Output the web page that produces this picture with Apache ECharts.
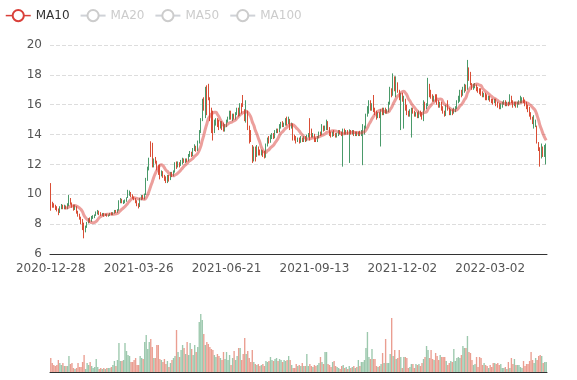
<!DOCTYPE html>
<html><head><meta charset="utf-8">
<script src="https://cdn.jsdelivr.net/npm/echarts@6/dist/echarts.min.js"></script>
<style>html,body{margin:0;padding:0;background:#fff}#main{width:577px;height:380px}</style>
</head><body><div id="main"></div>
<script>
// trading calendar: weekdays from firstDay, minus closed days
const firstDay = '2020-12-28';
const closedDays = ['2021-01-01','2021-02-11','2021-02-12','2021-02-15','2021-02-16','2021-02-17',
  '2021-04-05','2021-05-03','2021-05-04','2021-07-05','2021-09-06',
  '2022-01-03','2022-01-31','2022-02-01','2022-02-02','2022-02-03','2022-02-04','2022-04-04','2022-04-05'];
const labelEvery = 58;

// [open, close, low, high]
const ohlc = [
[10.6,9.0,8.9,10.75],[9.4,9.25,9.1,9.5],[9.3,9.2,9.1,9.4],[9.2,9.0,8.95,9.3],[9.1,8.95,8.85,9.2],[9.0,8.75,8.6,9.05],[8.8,9.1,8.75,9.2],[9.05,9.25,9.0,9.35],[9.2,9.1,9.0,9.3],[9.1,9.2,9.0,9.3],
[9.2,9.05,9.0,9.25],[9.05,9.3,9.0,9.4],[9.3,9.8,9.2,9.95],[9.7,9.35,9.3,9.75],[9.35,9.25,9.1,9.45],[9.25,9.0,8.9,9.3],[9.0,9.2,8.95,9.3],[9.15,8.8,8.7,9.2],[8.8,8.6,8.5,8.9],[8.6,8.4,8.3,8.7],
[8.45,8.1,8.0,8.5],[8.1,7.7,7.6,8.35],[7.7,7.4,7.05,8.1],[7.5,7.85,7.45,7.9],[7.8,8.1,7.75,8.15],[8.1,8.3,8.05,8.4],[8.3,8.2,8.1,8.45],[8.2,8.45,8.15,8.55],[8.45,8.5,8.35,8.6],[8.5,8.6,8.4,8.65],
[8.6,8.75,8.55,8.85],[8.75,8.85,8.65,8.95],[8.8,8.7,8.6,8.9],[8.7,8.65,8.55,8.8],[8.65,8.7,8.55,8.75],[8.7,8.6,8.5,8.75],[8.6,8.65,8.55,8.7],[8.65,8.55,8.5,8.7],[8.55,8.6,8.5,8.65],[8.6,8.7,8.55,8.75],
[8.7,8.65,8.6,8.8],[8.65,8.75,8.6,8.8],[8.75,8.9,8.7,8.95],[8.9,8.8,8.75,8.95],[8.8,8.95,8.75,9.0],[8.95,9.5,8.9,9.6],[9.5,9.7,9.4,9.75],[9.65,9.45,9.4,9.7],[9.45,9.5,9.35,9.6],[9.5,9.6,9.4,9.65],
[9.6,9.75,9.5,9.8],[9.8,10.1,9.75,10.3],[10.1,10.15,9.9,10.25],[10.1,9.9,9.8,10.15],[9.9,9.75,9.7,10.0],[9.75,9.7,9.6,9.85],[9.7,9.5,9.4,9.75],[9.5,9.3,9.2,9.6],[9.3,9.15,9.05,9.4],[9.2,9.7,9.15,9.75],
[9.7,9.85,9.6,9.95],[9.85,9.75,9.65,9.95],[9.75,10.0,9.65,10.05],[10.0,11.0,9.95,11.1],[11.0,11.8,10.9,11.85],[11.8,12.4,11.6,12.45],[13.4,12.6,12.5,13.55],[13.3,12.0,11.8,13.45],[11.85,12.3,11.8,12.4],[12.3,12.2,12.05,12.5],
[12.2,11.9,11.6,12.25],[11.9,11.7,11.3,11.95],[11.7,11.4,11.0,12.0],[11.4,11.5,11.2,11.6],[11.5,11.2,11.1,11.55],[11.2,11.05,10.9,11.3],[11.0,10.9,10.75,11.2],[10.9,11.2,10.75,11.3],[11.2,11.0,10.85,11.3],[11.0,11.4,10.95,11.5],
[11.4,11.25,11.15,11.5],[11.25,11.5,11.2,11.6],[11.5,12.0,11.45,12.15],[12.0,11.9,11.7,12.2],[11.9,12.1,11.8,12.2],[12.1,11.95,11.8,12.15],[11.95,12.2,11.9,12.3],[12.2,12.35,12.0,12.45],[12.35,12.2,12.1,12.4],[12.2,12.3,12.1,12.4],
[12.3,12.25,12.15,12.4],[12.25,12.6,12.2,12.7],[12.6,12.8,12.5,12.9],[12.8,12.6,12.5,12.85],[12.6,13.0,12.55,13.1],[13.0,13.25,12.9,13.35],[13.2,12.95,12.85,13.25],[12.95,13.5,12.9,13.6],[13.5,14.2,13.4,14.3],[14.2,15.0,14.1,15.1],
[15.0,16.2,14.9,16.4],[16.2,16.0,15.6,16.5],[16.0,17.0,15.1,17.2],[17.0,16.0,15.3,17.3],[16.6,16.4,16.3,17.4],[16.4,15.0,14.9,16.5],[15.5,14.4,14.1,15.8],[14.5,14.2,13.6,15.6],[14.2,14.8,14.1,15.0],[14.8,15.0,14.6,15.1],
[15.0,14.7,14.5,15.1],[14.7,14.5,14.3,15.0],[14.5,14.8,14.4,14.9],[14.8,14.5,14.3,14.9],[14.5,14.3,14.2,14.8],[14.3,14.6,14.2,14.7],[14.6,14.9,14.5,15.0],[14.9,15.1,14.8,15.2],[15.1,15.5,15.0,15.6],[15.5,15.2,15.0,15.6],
[15.2,15.3,14.9,15.4],[15.3,15.1,15.0,15.4],[15.1,15.4,15.0,15.5],[15.4,15.7,15.3,15.8],[15.7,15.3,15.2,15.8],[15.3,15.9,15.25,16.1],[15.9,15.5,15.4,16.1],[16.4,15.9,15.85,16.65],[15.6,15.3,14.9,15.7],[15.0,16.2,14.8,16.3],
[15.6,14.6,14.3,15.6],[14.5,13.8,13.4,14.6],[13.9,13.6,13.5,14.3],[13.2,12.4,12.1,13.3],[12.4,13.0,12.2,13.2],[12.9,12.6,12.2,13.2],[12.6,13.1,12.5,13.3],[13.1,12.9,12.6,13.2],[12.9,12.7,12.6,13.0],[12.7,12.9,12.6,13.0],
[12.9,12.6,12.5,12.95],[12.6,12.5,12.4,12.9],[12.5,13.3,12.45,13.4],[13.3,13.7,13.2,13.8],[13.7,13.5,13.4,13.9],[13.5,13.9,13.45,14.0],[13.9,14.0,13.7,14.1],[14.0,13.8,13.7,14.1],[13.8,14.2,13.75,14.3],[14.2,14.3,14.1,14.4],
[14.3,14.2,14.1,14.4],[14.2,14.6,14.15,14.7],[14.6,14.8,14.4,14.85],[14.8,14.6,14.5,14.9],[14.6,14.7,14.5,14.8],[14.7,15.0,14.6,15.1],[15.0,14.8,14.6,15.2],[14.8,15.0,14.7,15.2],[15.0,14.5,14.3,15.05],[14.5,14.6,14.4,14.8],
[14.6,13.9,13.6,14.75],[13.9,13.8,13.6,14.0],[13.8,13.6,13.4,13.9],[13.6,13.7,13.5,13.8],[13.7,13.5,13.4,13.8],[13.5,13.6,13.45,13.9],[13.6,13.55,13.5,13.8],[13.55,13.8,13.5,13.9],[13.8,13.6,13.5,13.9],[13.6,13.9,13.55,14.0],
[13.9,14.0,13.8,14.1],[14.9,13.9,13.6,15.1],[14.2,13.9,13.8,14.4],[13.9,14.0,13.8,14.1],[14.0,13.7,13.5,14.05],[13.7,13.6,13.5,13.8],[13.6,13.8,13.5,13.9],[13.8,14.1,13.75,14.2],[14.1,14.0,13.9,14.2],[14.0,14.5,13.95,14.7],
[14.5,14.3,14.2,14.6],[14.3,14.5,14.25,14.6],[14.4,14.8,14.3,15.0],[14.8,14.4,14.3,14.9],[14.4,14.0,13.9,14.5],[14.0,13.9,13.8,14.2],[13.9,14.1,13.85,14.2],[14.1,14.0,13.9,14.3],[14.0,13.9,13.8,14.1],[13.9,14.0,13.8,14.1],
[14.0,14.2,13.9,14.3],[14.2,14.1,14.0,14.3],[14.1,14.0,13.9,14.2],[14.0,14.3,11.85,14.4],[14.3,14.1,14.0,14.4],[14.1,14.2,14.0,14.3],[14.2,14.1,14.0,14.3],[14.1,14.25,12.1,14.35],[14.25,14.1,14.0,14.3],[14.1,14.2,14.0,14.3],
[14.2,14.0,13.9,14.3],[14.0,14.1,13.9,14.2],[14.1,14.0,13.9,14.2],[14.0,14.15,13.9,14.2],[14.15,14.0,13.9,14.25],[14.0,14.2,13.9,14.3],[14.2,14.6,11.95,14.7],[14.1,14.5,14.0,14.6],[14.5,15.3,14.4,15.4],[15.3,15.8,15.2,15.9],
[15.8,16.2,15.4,16.3],[16.2,15.8,15.6,16.3],[15.8,16.0,15.6,16.1],[16.5,15.7,15.5,16.65],[15.7,15.5,15.3,15.8],[15.5,15.3,15.0,15.6],[15.3,15.4,15.1,15.5],[15.4,15.2,15.1,15.5],[15.2,15.6,13.2,15.7],[15.6,15.4,15.3,15.8],
[15.4,15.7,15.3,15.8],[15.7,15.5,15.4,15.8],[15.5,15.6,15.4,15.7],[15.6,16.1,15.5,16.2],[16.1,17.0,16.0,17.2],[17.0,16.7,16.5,17.1],[16.7,17.8,16.6,18.1],[17.8,17.1,16.9,17.9],[17.1,17.5,16.5,17.9],[17.4,16.9,16.8,17.5],
[16.9,16.5,16.3,17.0],[16.3,16.7,14.3,16.8],[16.7,16.4,16.2,16.8],[16.2,16.5,14.4,16.6],[16.4,15.8,15.6,16.4],[15.8,15.4,15.3,16.0],[15.5,15.3,15.2,15.6],[15.3,15.6,15.2,15.7],[15.5,15.7,13.8,15.8],[15.7,15.5,15.4,15.8],
[15.5,15.3,15.2,15.6],[15.3,15.4,15.2,15.5],[15.4,15.2,15.1,15.5],[15.2,15.5,15.1,15.6],[15.5,15.3,15.2,15.6],[15.3,15.1,15.0,15.5],[15.1,16.1,14.9,16.3],[16.1,15.8,15.6,16.2],[15.8,16.0,15.7,16.1],[16.0,17.5,15.9,17.8],
[17.3,16.7,16.5,17.4],[16.8,16.5,16.4,17.0],[16.5,16.3,16.2,16.7],[16.3,16.5,16.2,16.6],[16.5,16.3,16.2,16.7],[16.6,16.1,16.0,16.7],[16.1,15.9,15.8,16.3],[15.9,16.1,15.8,16.2],[16.1,15.7,15.6,16.2],[15.7,15.5,15.4,15.9],
[15.5,15.3,15.2,15.6],[15.3,15.9,15.25,16.0],[15.9,15.7,15.6,16.3],[15.7,15.4,15.3,15.8],[15.4,15.6,15.3,15.7],[15.6,15.5,15.3,15.7],[15.5,15.7,15.4,15.8],[15.7,15.8,15.5,15.9],[15.8,16.2,15.7,16.3],[16.2,16.5,16.1,16.6],
[16.5,16.9,16.2,17.0],[16.9,16.7,16.5,17.0],[16.7,17.1,16.6,17.2],[17.0,17.3,16.8,17.4],[17.3,17.0,16.9,17.35],[17.1,18.6,17.0,19.0],[18.4,17.7,17.6,18.5],[17.8,17.4,17.3,18.2],[17.4,17.1,17.0,17.45],[17.1,17.3,17.0,17.4],
[17.3,17.35,17.1,17.45],[17.3,17.0,16.9,17.35],[17.0,16.9,16.8,17.2],[16.9,16.8,16.7,17.1],[16.9,16.7,16.6,17.1],[16.8,16.6,16.5,16.9],[16.6,16.7,16.5,16.8],[16.7,16.4,16.3,16.8],[16.5,16.4,16.3,16.7],[16.4,16.5,16.3,16.6],
[16.5,16.3,16.2,16.6],[16.3,16.2,16.1,16.4],[16.3,16.1,16.0,16.4],[16.2,16.3,16.1,16.4],[16.3,16.0,15.9,16.4],[16.0,15.9,15.8,16.2],[16.0,15.8,15.7,16.1],[15.8,16.0,15.7,16.1],[16.0,16.1,15.8,16.2],[16.1,16.2,16.0,16.3],
[16.2,16.0,15.9,16.3],[16.0,16.1,15.9,16.2],[16.1,16.0,15.9,16.2],[16.1,16.5,16.0,16.7],[16.5,16.2,16.1,16.6],[16.2,16.0,15.8,16.3],[16.0,16.1,15.9,16.2],[16.1,15.9,15.8,16.2],[15.9,16.1,15.8,16.2],[16.1,16.2,16.0,16.3],
[16.2,16.4,16.1,16.6],[16.2,16.4,16.1,16.5],[16.4,16.3,16.1,16.5],[16.3,16.1,15.9,16.35],[16.1,15.8,15.7,16.2],[15.9,15.6,15.5,16.0],[15.8,15.3,15.2,15.85],[15.4,15.1,15.0,15.5],[15.0,14.9,14.7,15.2],[14.5,15.2,14.4,15.3],
[14.7,14.9,14.5,15.0],[14.5,13.5,13.4,14.6],[13.4,13.0,12.9,13.5],[13.1,12.4,11.85,13.15],[12.5,13.2,12.4,13.4],[13.1,12.7,12.5,13.2],[12.6,13.1,12.5,13.3],[12.9,13.3,12.0,13.4]
];

const volumes = [
14,9,7,6,7,12,9,7,9,6, 6,6,16,8,9,4,3,4,9,5, 5,10,17,3,9,7,10,6,4,5, 13,5,3,4,3,4,3,4,4,4,
5,7,11,6,12,29,11,11,12,29, 21,17,16,10,10,12,14,7,7,16, 14,13,30,37,23,30,33,25,14,14, 27,27,13,12,10,13,8,11,5,9,
12,14,16,42,20,15,22,27,24,18, 30,17,29,23,17,27,20,25,50,58, 52,38,27,30,28,25,23,22,17,15, 18,16,14,12,20,13,20,12,17,7,
14,21,12,16,24,24,12,18,34,18, 21,14,10,22,10,8,7,8,6,7, 8,6,11,10,11,15,12,11,13,14, 11,13,12,10,12,11,12,16,12,7,
4,4,8,6,7,6,9,6,6,18, 6,8,6,5,7,6,7,9,15,10, 8,20,20,8,7,5,10,11,6,5, 4,3,6,7,4,5,3,6,4,5,
6,4,5,12,6,10,10,12,24,40, 15,13,23,13,13,6,5,6,8,19, 9,33,9,9,18,54,16,22,13,14, 22,15,4,15,15,14,4,5,8,8,
4,8,7,8,6,9,13,15,26,22, 14,22,13,12,19,16,12,17,15,15, 15,11,7,9,11,10,23,11,14,15, 14,17,26,24,24,36,20,19,12,7,
8,15,5,15,14,7,9,7,6,4, 7,5,9,9,8,9,7,8,4,4, 5,3,10,4,14,8,13,7,7,7, 5,4,11,6,8,8,11,20,12,9,
14,12,16,17,16,9,10,10
];

const maNames = ['MA10','MA20','MA50','MA100'];
const maDays = [10,20,50,100];
const maColors = ['#d9403a','#2f6fb5','#e6a23c','#8e5bb5'];
const upColor = '#4a9a6a';
const downColor = '#d94e36';

function buildDates(n) {
  const closed = new Set(closedDays);
  const out = [];
  const d = new Date(firstDay + 'T00:00:00Z');
  while (out.length < n) {
    const wd = d.getUTCDay();
    const s = d.toISOString().slice(0, 10);
    if (wd !== 0 && wd !== 6 && !closed.has(s)) out.push(s);
    d.setUTCDate(d.getUTCDate() + 1);
  }
  return out;
}
const dates = buildDates(ohlc.length);

function movingAverage(n) {
  return ohlc.map((_, i) => {
    if (i < n - 1) return '-';
    let s = 0;
    for (let j = 0; j < n; j++) s += ohlc[i - j][1];
    return +(s / n).toFixed(3);
  });
}

const chart = echarts.init(document.getElementById('main'));
const selected = {};
maNames.forEach((n, k) => { selected[n] = k === 0; });

chart.setOption({
  animation: false,
  backgroundColor: '#fff',
  textStyle: { fontFamily: 'DejaVu Sans' },
  legend: { left: 0, top: 4, itemGap: 10, data: maNames, selected: selected, inactiveColor: '#ccc',
    lineStyle: { width: 1.5, opacity: 1 },
    itemStyle: { opacity: 1, borderWidth: 1.2 },
    textStyle: { color: '#333', fontFamily: 'DejaVu Sans', fontSize: 12 } },
  grid: [
    { left: 50, right: 30, top: 45, height: 209 },
    { left: 50, right: 30, top: 312, height: 60 }
  ],
  xAxis: [
    { type: 'category', data: dates, boundaryGap: true,
      axisLine: { lineStyle: { color: '#333' } },
      axisTick: { interval: labelEvery - 1, lineStyle: { color: '#333' } },
      axisLabel: { interval: labelEvery - 1, color: '#555', fontSize: 12, fontFamily: 'DejaVu Sans', margin: 9 },
      splitLine: { show: false } },
    { type: 'category', gridIndex: 1, data: dates, boundaryGap: true,
      axisLine: { lineStyle: { color: '#333' } },
      axisTick: { show: false }, axisLabel: { show: false }, splitLine: { show: false } }
  ],
  yAxis: [
    { type: 'value', min: 6, max: 20, interval: 2,
      axisLine: { show: false }, axisTick: { show: false },
      axisLabel: { color: '#555', fontSize: 12, fontFamily: 'DejaVu Sans' },
      splitLine: { lineStyle: { type: 'dashed', color: '#ddd' } } },
    { type: 'value', gridIndex: 1, min: 0, max: 60, show: false, splitLine: { show: false } }
  ],
  series: [
    { name: 'K', type: 'candlestick', data: ohlc,
      itemStyle: { color: upColor, color0: downColor, borderColor: upColor, borderColor0: downColor } }
  ].concat(maNames.map((n, k) => ({
    name: n, type: 'line', data: movingAverage(maDays[k]), smooth: true, showSymbol: false,
    color: maColors[k], lineStyle: { width: 3, opacity: 0.5 }
  }))).concat([
    { name: 'Volume', type: 'bar', xAxisIndex: 1, yAxisIndex: 1, barCategoryGap: '10%',
      data: volumes.map((v, i) => ({ value: v,
        itemStyle: { color: ohlc[i][1] >= ohlc[i][0] ? upColor : downColor, opacity: 0.55 } })) }
  ])
});
</script>
</body></html>
